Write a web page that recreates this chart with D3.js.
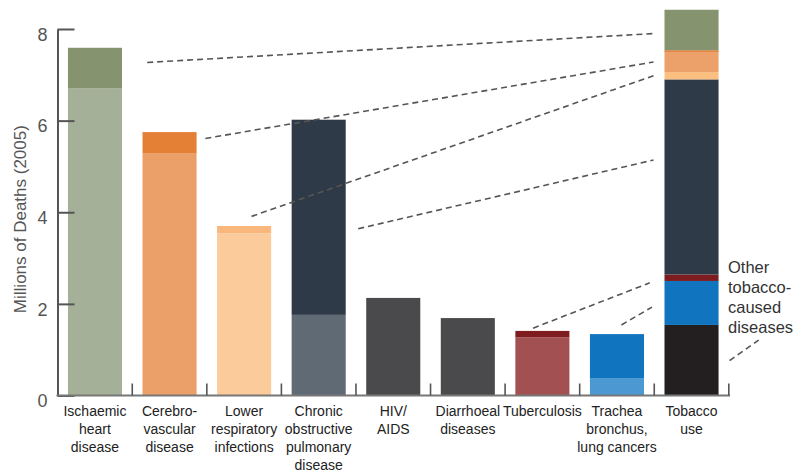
<!DOCTYPE html>
<html>
<head>
<meta charset="utf-8">
<script src="https://cdn.jsdelivr.net/npm/d3@7"></script>
<style>
  body { margin: 0; background: #fff; }
  svg { display: block; font-family: "Liberation Sans", Arial, Helvetica, sans-serif; }
</style>
</head>
<body>
<div id="chart"></div>
<script>
// Data (millions of deaths, 2005)
var categories = ['ischaemic', 'cerebro', 'lowerResp', 'copd', 'hiv', 'diarrhoeal', 'tb', 'trachea', 'tobacco'];
var categoryLabels = [
  ['Ischaemic', 'heart', 'disease'],
  ['Cerebro-', 'vascular', 'disease'],
  ['Lower', 'respiratory', 'infections'],
  ['Chronic', 'obstructive', 'pulmonary', 'disease'],
  ['HIV/', 'AIDS'],
  ['Diarrhoeal', 'diseases'],
  ['Tuberculosis'],
  ['Trachea', 'bronchus,', 'lung cancers'],
  ['Tobacco', 'use']
];
// deaths not caused by tobacco (base of each bar)
var otherDeaths = [6.70, 5.28, 3.54, 1.76, 2.13, 1.69, 1.27, 0.38, 0];
// tobacco-caused deaths (top of each bar)
var tobaccoDeaths = [0.89, 0.47, 0.16, 4.26, 0, 0, 0.14, 0.96, 0];
// tobacco-caused deaths not in the other categories
var otherTobaccoDeaths = 1.54;

var baseColors = ['#a4b097', '#eba06a', '#fbcb9c', '#5f6a75', '#4a4a4c', '#4a4a4c', '#a35052', '#4b98d2', '#231f20'];
var tobaccoColors = ['#86936f', '#e47f36', '#f9b77c', '#2e3a47', '#4a4a4c', '#4a4a4c', '#7f1c1f', '#1074be', '#231f20'];
// colours of the segments inside the tobacco bar
var stackColors = ['#86936f', '#eca16b', '#fbbf80', '#2e3a47', '#4a4a4c', '#4a4a4c', '#7f1c1f', '#1074be'];

var yTicks = [0, 2, 4, 6, 8];

// leader lines: [from position, from value, to position, to value] (position in category units)
var leaders = [
  [0.70, 7.27, 7.49, 7.90],
  [1.48, 5.61, 7.49, 7.28],
  [2.10, 3.91, 7.49, 6.98],
  [3.53, 3.64, 7.49, 5.14],
  [5.875, 1.47, 7.44, 2.46],
  [7.06, 1.54, 7.47, 1.93],
  [8.51, 0.76, 8.90, 1.21]
];

var width = 808, height = 472;
var margin = {top: 29, right: 79, bottom: 76.5, left: 57.5};

var svg = d3.select('#chart').append('svg')
  .attr('width', width)
  .attr('height', height);

var x = d3.scaleBand()
  .domain(categories)
  .range([margin.left, width - margin.right])
  .paddingInner(0.275)
  .paddingOuter(0.14);

var y = d3.scaleLinear()
  .domain([0, 8])
  .range([height - margin.bottom, margin.top]);

var pos = d3.scaleLinear()
  .domain([0, categories.length - 1])
  .range([x(categories[0]) + x.bandwidth() / 2, x(categories[categories.length - 1]) + x.bandwidth() / 2]);

var bw = x.bandwidth();

// bars for each disease
var diseases = categories.slice(0, 8);
var bars = svg.append('g');
diseases.forEach(function(c, i) {
  bars.append('rect')
    .attr('x', x(c))
    .attr('width', bw)
    .attr('y', y(otherDeaths[i]))
    .attr('height', y(0) - y(otherDeaths[i]))
    .attr('fill', baseColors[i]);
  if (tobaccoDeaths[i] > 0) {
    bars.append('rect')
      .attr('x', x(c))
      .attr('width', bw)
      .attr('y', y(otherDeaths[i] + tobaccoDeaths[i]))
      .attr('height', y(otherDeaths[i]) - y(otherDeaths[i] + tobaccoDeaths[i]))
      .attr('fill', tobaccoColors[i]);
  }
});

// tobacco use bar, stacked from the bottom
var stackOrder = [7, 6, 3, 2, 1, 0];
var acc = otherTobaccoDeaths;
bars.append('rect')
  .attr('x', x('tobacco'))
  .attr('width', bw)
  .attr('y', y(otherTobaccoDeaths))
  .attr('height', y(0) - y(otherTobaccoDeaths))
  .attr('fill', baseColors[8]);
stackOrder.forEach(function(i) {
  var v = tobaccoDeaths[i];
  bars.append('rect')
    .attr('x', x('tobacco'))
    .attr('width', bw)
    .attr('y', y(acc + v))
    .attr('height', y(acc) - y(acc + v))
    .attr('fill', stackColors[i]);
  acc += v;
});
// thin darker edge on the cerebrovascular segment
var cerebroTop = otherTobaccoDeaths + tobaccoDeaths[7] + tobaccoDeaths[6] + tobaccoDeaths[3] + tobaccoDeaths[2] + tobaccoDeaths[1];
bars.append('rect')
  .attr('x', x('tobacco'))
  .attr('width', bw)
  .attr('y', y(cerebroTop))
  .attr('height', 1.2)
  .attr('fill', tobaccoColors[1]);

// dashed leader lines
svg.append('g').selectAll('line')
  .data(leaders)
  .enter()
  .append('line')
  .attr('x1', function(d) { return pos(d[0]); })
  .attr('y1', function(d) { return y(d[1]); })
  .attr('x2', function(d) { return pos(d[2]); })
  .attr('y2', function(d) { return y(d[3]); })
  .attr('stroke', '#555')
  .attr('stroke-width', 1.6)
  .attr('stroke-dasharray', '6,4');

// y axis
var yAxis = svg.append('g')
  .attr('transform', 'translate(' + margin.left + ',0)')
  .call(d3.axisLeft(y).tickValues(yTicks).tickSize(-17).tickPadding(10).tickSizeOuter(0));
yAxis.select('.domain').attr('stroke', '#555').attr('stroke-width', 2);
yAxis.selectAll('.tick line').attr('stroke', '#555').attr('stroke-width', 2);
yAxis.selectAll('.tick text')
  .attr('fill', '#555')
  .attr('dy', '0.62em')
  .style('font-size', '18px');

// bottom axis with separators between the bars
var xRight = width - margin.right;
var baseline = svg.append('g');
baseline.append('line')
  .attr('x1', margin.left - 1)
  .attr('x2', xRight + 1)
  .attr('y1', y(0))
  .attr('y2', y(0))
  .attr('stroke', '#777')
  .attr('stroke-width', 2);
baseline.selectAll('.sep')
  .data(categories)
  .enter()
  .append('line')
  .attr('class', 'sep')
  .attr('x1', function(d) { return x(d) + bw + x.step() * 0.1375; })
  .attr('x2', function(d) { return x(d) + bw + x.step() * 0.1375; })
  .attr('y1', y(0))
  .attr('y2', y(0) - 12)
  .attr('stroke', '#555')
  .attr('stroke-width', 1.6);

// category labels
var labels = svg.append('g').selectAll('text')
  .data(categories)
  .enter()
  .append('text')
  .attr('x', function(d) { return x(d) + bw / 2; })
  .attr('y', y(0) + 20)
  .attr('text-anchor', 'middle')
  .attr('fill', '#222')
  .style('font-size', '14px');
labels.selectAll('tspan')
  .data(function(d, i) { return categoryLabels[i]; })
  .enter()
  .append('tspan')
  .attr('x', function() { return this.parentNode.getAttribute('x'); })
  .attr('dy', function(d, i) { return i === 0 ? 0 : 18; })
  .text(function(d) { return d; });

// y axis title
svg.append('text')
  .attr('transform', 'translate(26,' + y(3.85) + ') rotate(-90)')
  .attr('text-anchor', 'middle')
  .attr('fill', '#555')
  .style('font-size', '17px')
  .text('Millions of Deaths (2005)');

// note for the other tobacco-caused diseases
svg.append('text')
  .attr('x', xRight - 1)
  .attr('y', y(2.68))
  .attr('fill', '#333')
  .style('font-size', '16.5px')
  .selectAll('tspan')
  .data(['Other', 'tobacco-', 'caused', 'diseases'])
  .enter()
  .append('tspan')
  .attr('x', xRight - 1)
  .attr('dy', function(d, i) { return i === 0 ? 0 : 20; })
  .text(function(d) { return d; });
</script>
</body>
</html>
